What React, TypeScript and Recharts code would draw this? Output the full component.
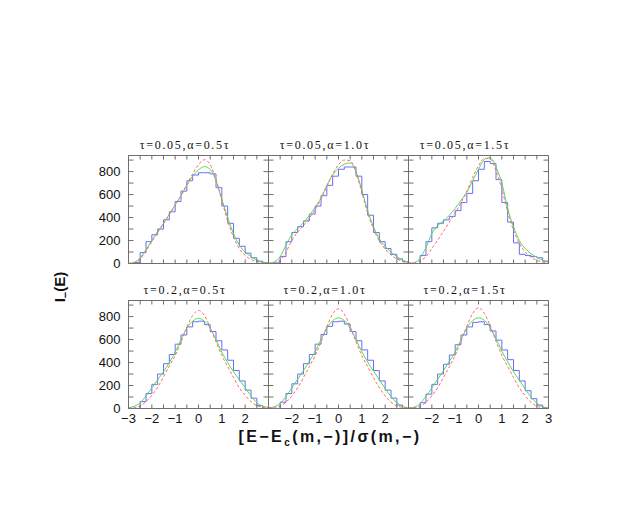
import React from 'react';
import { LineChart, Line, XAxis, YAxis, ReferenceArea } from 'recharts';

// x positions (bin edges / curve sample points)
const xGrid = [-3, -2.75, -2.5, -2.25, -2, -1.75, -1.5, -1.25, -1, -0.75, -0.5, -0.25, 0, 0.25, 0.5, 0.75, 1, 1.25, 1.5, 1.75, 2, 2.25, 2.5, 2.75, 3];

const xTickValues = [-3, -2.5, -2, -1.5, -1, -0.5, 0, 0.5, 1, 1.5, 2, 2.5, 3];
const yTickValues = [0, 100, 200, 300, 400, 500, 600, 700, 800, 900];
const yTickLabels = [0, 200, 400, 600, 800];
const xTickLabels = [
  [-3, -2, -1, 0, 1, 2],
  [-2, -1, 0, 1, 2],
  [-2, -1, 0, 1, 2, 3],
];

const titles = [
  'τ=0.05,α=0.5τ',
  'τ=0.05,α=1.0τ',
  'τ=0.05,α=1.5τ',
  'τ=0.2,α=0.5τ',
  'τ=0.2,α=1.0τ',
  'τ=0.2,α=1.5τ',
];

// histograms: 24 bins of width 0.25 from -3 to 3
const hist1 = [0, 10, 95, 190, 250, 300, 380, 450, 540, 630, 720, 770, 790, 790, 780, 660, 500, 350, 220, 150, 90, 50, 20, 5];
const hist2 = [0, 5, 60, 190, 270, 320, 370, 430, 500, 590, 680, 760, 820, 840, 840, 760, 600, 420, 270, 190, 130, 80, 40, 15];
const hist3 = [0, 0, 70, 190, 310, 350, 380, 410, 460, 530, 610, 720, 820, 888, 870, 730, 530, 360, 180, 80, 70, 60, 50, 20];
const hist4 = [0, 0, 60, 130, 210, 300, 390, 470, 560, 640, 710, 755, 760, 730, 670, 590, 510, 420, 330, 240, 160, 90, 25, 0];
const hist5 = [0, 0, 55, 130, 215, 300, 390, 470, 560, 645, 715, 755, 760, 735, 670, 590, 510, 420, 330, 240, 160, 90, 30, 0];
const hist6 = [0, 0, 50, 125, 210, 300, 385, 465, 555, 640, 710, 750, 755, 730, 675, 595, 510, 425, 330, 240, 155, 85, 30, 5];

// green solid curves at xGrid
const green1 = [0, 10, 50, 120, 200, 280, 350, 430, 510, 590, 680, 760, 815, 843, 820, 720, 560, 400, 260, 160, 100, 60, 30, 12, 5];
const green2 = [0, 15, 60, 160, 250, 305, 355, 420, 490, 570, 680, 770, 830, 865, 876, 800, 640, 460, 320, 215, 150, 100, 60, 30, 12];
const green3 = [0, 5, 50, 140, 260, 330, 370, 420, 480, 550, 620, 720, 820, 905, 920, 840, 700, 480, 320, 200, 130, 85, 55, 30, 12];
const green4 = [5, 20, 50, 110, 180, 250, 320, 400, 490, 600, 700, 760, 785, 760, 700, 600, 490, 400, 320, 250, 180, 110, 50, 20, 10];
const green5 = [3, 15, 45, 105, 180, 255, 330, 410, 495, 600, 700, 765, 789, 765, 700, 600, 495, 405, 325, 250, 175, 105, 50, 18, 5];
const green6 = [3, 12, 45, 105, 180, 255, 330, 410, 495, 600, 700, 765, 789, 768, 705, 610, 500, 405, 320, 245, 170, 100, 45, 15, 5];

// red dashed curves at xGrid
const red1 = [0, 8, 40, 110, 190, 270, 345, 425, 505, 590, 685, 780, 860, 903, 860, 730, 550, 370, 230, 130, 70, 35, 15, 5, 2];
const red2 = [3, 8, 30, 100, 200, 275, 330, 395, 470, 560, 670, 780, 860, 900, 895, 790, 620, 440, 300, 195, 125, 75, 40, 18, 6];
const red3 = [5, 10, 25, 60, 130, 205, 280, 360, 440, 530, 630, 750, 850, 915, 910, 810, 650, 450, 290, 175, 100, 55, 28, 12, 5];
const red4 = [3, 8, 22, 60, 115, 185, 275, 370, 460, 580, 705, 810, 853, 810, 705, 580, 460, 365, 270, 180, 115, 60, 25, 10, 3];
const red5 = [8, 10, 20, 55, 110, 180, 270, 365, 460, 580, 712, 822, 868, 822, 712, 580, 460, 365, 270, 180, 110, 55, 22, 10, 4];
const red6 = [6, 8, 18, 55, 110, 180, 270, 365, 462, 585, 718, 828, 876, 828, 718, 585, 462, 365, 270, 180, 110, 55, 20, 8, 3];

const hists = [hist1, hist2, hist3, hist4, hist5, hist6];
const greens = [green1, green2, green3, green4, green5, green6];
const reds = [red1, red2, red3, red4, red5, red6];

const PW = 140;
const PH = 108;
const PAD = 30;
const COL_LEFT = [128, 268, 408];
const ROW_TOP = [155, 300];
const Y_MAX = 940;

const AXIS_COLOR = '#6e6e6e';
const BLUE = '#6b6bff';
const GREEN = '#4ddf4d';
const RED = '#ff6a6a';
const SANS = '"Liberation Sans", Arial, Helvetica, sans-serif';
const SERIF = '"Liberation Serif", "Times New Roman", serif';

const fmt = (v: number) => (v < 0 ? '\u2212' + Math.abs(v) : String(v));

function makeXTick(labels: number[] | null) {
  return (props: any) => {
    const { x, y, payload } = props;
    const v = payload.value;
    return (
      <g>
        <line x1={x} y1={y} x2={x} y2={y - 4} stroke={AXIS_COLOR} strokeWidth={1} />
        <line x1={x} y1={y - PH} x2={x} y2={y - PH + 4} stroke={AXIS_COLOR} strokeWidth={1} />
        {labels && labels.indexOf(v) >= 0 ? (
          <text x={x} y={y + 14} textAnchor="middle" fontSize={13} fontFamily={SANS} fill="#111">
            {fmt(v)}
          </text>
        ) : null}
      </g>
    );
  };
}

function makeYTick(showLabels: boolean) {
  return (props: any) => {
    const { x, y, payload } = props;
    const v = payload.value;
    return (
      <g>
        <line x1={x} y1={y} x2={x + 5} y2={y} stroke={AXIS_COLOR} strokeWidth={1} />
        <line x1={x + PW} y1={y} x2={x + PW - 5} y2={y} stroke={AXIS_COLOR} strokeWidth={1} />
        {showLabels && yTickLabels.indexOf(v) >= 0 ? (
          <text x={x - 8} y={y + 4.5} textAnchor="end" fontSize={13} fontFamily={SANS} fill="#111">
            {fmt(v)}
          </text>
        ) : null}
      </g>
    );
  };
}

function Panel({ idx }: { idx: number }) {
  const r = Math.floor(idx / 3);
  const c = idx % 3;
  const hist = hists[idx];
  const green = greens[idx];
  const red = reds[idx];
  const rows = xGrid.map((x, i) => ({
    x,
    h: i < hist.length ? hist[i] : hist[hist.length - 1],
    g: green[i],
    r: red[i],
  }));
  const left = COL_LEFT[c];
  const top = ROW_TOP[r];
  return (
    <>
      <div
        style={{
          position: 'absolute',
          left: left + PW / 2 - 13 - 70,
          top: top - 16,
          width: 140,
          textAlign: 'center',
          fontFamily: SERIF,
          fontSize: 12,
          lineHeight: '12px',
          letterSpacing: '1.7px',
          color: '#111',
          whiteSpace: 'nowrap',
        }}
      >
        {titles[idx]}
      </div>
      <div style={{ position: 'absolute', left: left - PAD, top: top - PAD }}>
        <LineChart
          width={PW + 2 * PAD}
          height={PH + 2 * PAD}
          data={rows}
          margin={{ top: PAD + 0.5, left: PAD - 0.5, right: PAD - 0.5, bottom: PAD - 1.5 }}
        >
          <XAxis
            dataKey="x"
            type="number"
            domain={[-3, 3]}
            allowDataOverflow
            ticks={xTickValues}
            interval={0}
            height={1}
            tickSize={0}
            tickMargin={0}
            axisLine={false}
            tickLine={false}
            tick={makeXTick(r === 1 ? xTickLabels[c] : null)}
          />
          <YAxis
            type="number"
            domain={[0, Y_MAX]}
            allowDataOverflow
            ticks={yTickValues}
            interval={0}
            width={1}
            tickSize={0}
            tickMargin={0}
            axisLine={false}
            tickLine={false}
            tick={makeYTick(c === 0)}
          />
          <ReferenceArea x1={-3} x2={3} y1={0} y2={Y_MAX} fill="none" fillOpacity={0} stroke={AXIS_COLOR} strokeWidth={1} />
          <Line dataKey="h" type="stepAfter" stroke={BLUE} strokeWidth={1} dot={false} isAnimationActive={false} />
          <Line dataKey="g" type="monotone" stroke={GREEN} strokeWidth={1} dot={false} isAnimationActive={false} />
          <Line dataKey="r" type="monotone" stroke={RED} strokeWidth={1} strokeDasharray="3 2" dot={false} isAnimationActive={false} />
        </LineChart>
      </div>
    </>
  );
}

export default function App() {
  return (
    <div style={{ position: 'absolute', left: 0, top: 0, width: 623, height: 519, background: '#fff', overflow: 'hidden' }}>
      {[0, 1, 2, 3, 4, 5].map((i) => (
        <Panel key={i} idx={i} />
      ))}
      <div
        style={{
          position: 'absolute',
          left: 110,
          width: 440,
          top: 427,
          textAlign: 'center',
          fontFamily: SANS,
          fontWeight: 'bold',
          fontSize: 16,
          lineHeight: '20px',
          letterSpacing: '2.4px',
          color: '#111',
          whiteSpace: 'nowrap',
        }}
      >
        [E{'\u2212'}E<sub style={{ fontSize: 10 }}>c</sub>(m,{'\u2212'})]/σ(m,{'\u2212'})
      </div>
      <div
        style={{
          position: 'absolute',
          left: 20,
          top: 277,
          width: 80,
          height: 20,
          lineHeight: '20px',
          textAlign: 'center',
          transform: 'rotate(-90deg)',
          fontFamily: SANS,
          fontWeight: 'bold',
          fontSize: 15,
          color: '#111',
          whiteSpace: 'nowrap',
        }}
      >
        I<sub style={{ fontSize: 11 }}>{'\u2212'}</sub>(E)
      </div>
    </div>
  );
}
